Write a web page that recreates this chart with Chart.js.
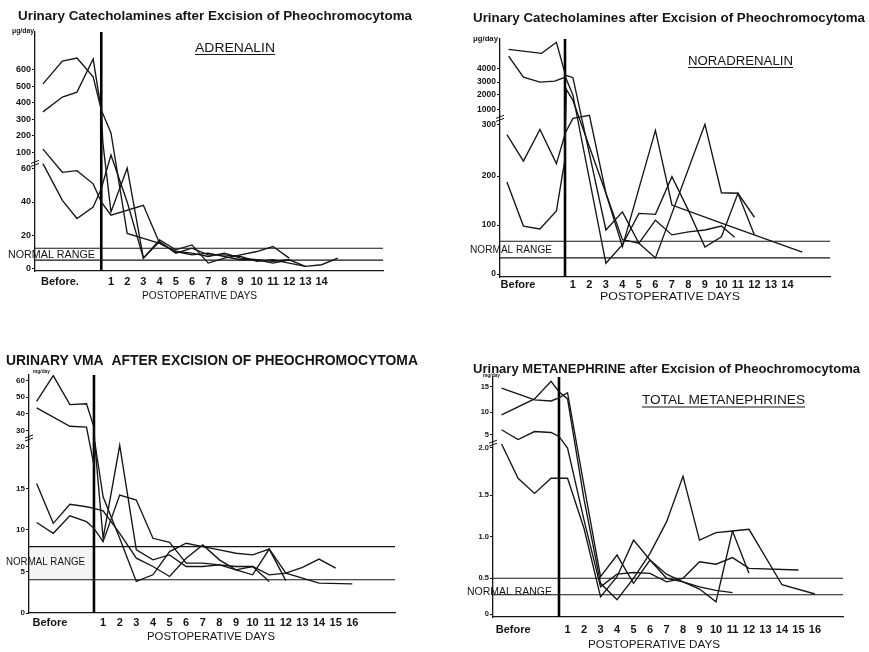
<!DOCTYPE html>
<html>
<head>
<meta charset="utf-8">
<script src="https://cdn.jsdelivr.net/npm/chart.js@4.4.1/dist/chart.umd.min.js"></script>
<style>
body { margin: 0; background: #fff; width: 869px; height: 652px; overflow: hidden; position: relative; }
canvas { position: absolute; }
</style>
</head>
<body>
<canvas id="adr" width="435" height="310" style="left:0;top:0"></canvas>
<canvas id="nor" width="434" height="310" style="left:435px;top:0"></canvas>
<canvas id="vma" width="435" height="332" style="left:0;top:320px"></canvas>
<canvas id="met" width="434" height="332" style="left:435px;top:320px"></canvas>
<script>
// ---------- ADRENALIN (ug/day) ----------
var adrTickVals = [0, 20, 40, 60, 100, 200, 300, 400, 500, 600];
var adrTickPos  = [0, 1, 2, 3, 3.5, 4, 4.5, 5, 5.5, 6];   // broken axis
var adrTickText = ['0', '20', '40', '60', '100', '200', '300', '400', '500', '600'];
var adrNormal = [4.8, 12];
var adrDaysA = [-3.2, -2, -1.1, -0.1, 0.4, 1, 2, 3, 4, 5, 6, 7, 8, 9, 10, 11, 12];
var adrA     = [516, 654, 672, 558, 358, 218, 21, 18, 15, 10, 9, 7, 9, 6, 5, 4, 5];
var adrDaysB = [-3.2, -2, -1.1, -0.1, 0.4, 0.5, 1, 2, 3, 4, 5, 6, 7, 8, 9, 10, 11, 12];
var adrB     = [346, 436, 466, 666, 358, 158, 34, 62, 6, 17, 11, 14, 3, 6, 8, 10, 13, 6];
var adrDaysC = [-3.2, -2, -1.1, -0.1, 0.4, 1, 3, 4, 5, 6, 7, 8, 9, 10, 11, 12, 13, 14, 15];
var adrC     = [120, 58, 59, 51, 40, 32, 38, 15, 10, 8, 9, 7, 5, 5, 3, 5, 1, 2, 6];
var adrDaysD = [-3.2, -2, -1.1, -0.1, 0.4, 1, 2, 3, 4, 5, 6, 7, 8, 9, 10, 11, 12, 13];
var adrD     = [73, 41, 30, 37, 48, 94, 40, 6, 16, 9, 12, 8, 8, 7, 4, 5, 3, 1];

// ---------- NORADRENALIN (ug/day) ----------
var norTickVals = [0, 100, 200, 300, 1000, 2000, 3000, 4000];
var norTickPos  = [0, 1, 2, 3.06, 3.36, 3.67, 3.92, 4.2];
var norTickText = ['0', '100', '200', '300', '1000', '2000', '3000', '4000'];
var norNormal = [33, 67];
var norDaysA = [-2.9, -0.9, 0, 0.55, 1, 3, 4, 5, 6, 9, 10, 11, 12];
var norA     = [5390, 5100, 5900, 3500, 3320, 90, 127, 63, 33, 300, 166, 165, 116];
var norDaysB = [-2.9, -2, -1, -0.1, 0.55, 1, 3, 4, 5, 6, 7, 8, 9, 10, 11, 12];
var norB     = [4900, 3360, 3000, 3070, 3360, 1950, 22, 60, 124, 122, 199, 130, 55, 76, 165, 80];
var norDaysC = [-3, -2, -1, 0, 0.55, 1, 2, 3, 4, 6, 7, 10, 14.9];
var norC     = [280, 229, 290, 224, 284, 580, 720, 165, 56, 288, 141, 104, 45];
var norDaysD = [-3, -2, -1, 0, 0.5, 0.6, 1, 4, 5, 6, 7, 8, 9, 10, 10.8];
var norD     = [188, 98, 92, 129, 229, 2400, 1600, 70, 63, 110, 80, 86, 90, 98, 75];

// ---------- VMA (mg/day) ----------
var vmaTickVals = [0, 5, 10, 15, 20, 30, 40, 50, 60];
var vmaTickPos  = [0, 5, 10, 15, 20, 22, 24, 26, 28];
var vmaTickText = ['0', '5', '10', '15', '20', '30', '40', '50', '60'];
var vmaNormal = [4, 8];
var vmaDaysA = [-3, -2, -1, 0, 0.45, 0.5, 1, 2, 3, 4, 5, 6, 7, 8, 9, 10, 11];
var vmaA     = [47.5, 63, 45.5, 46, 32, 22, 9, 21, 7.6, 6.4, 7, 5.6, 5.6, 5.8, 5.2, 5.6, 3.8];
var vmaDaysB = [-3, -1, 0, 0.45, 0.5, 1, 2, 3, 4, 5, 6, 7, 8, 9, 10, 11, 12];
var vmaB     = [43.5, 32.5, 32, 17.8, 23, 14, 9, 3.8, 4.6, 7.4, 8.4, 8, 7.6, 7.2, 7, 7.7, 3.9];
var vmaDaysC = [-3, -2, -1, 0, 0.45, 1, 2, 3, 4, 5, 6, 7, 8, 9, 10, 11, 12, 13, 14, 16];
var vmaC     = [15.6, 10.8, 13.1, 12.8, 12.6, 12.3, 9.6, 6.6, 5.6, 4.4, 6.6, 8.2, 6.4, 5.2, 4.6, 7.7, 4.8, 4.2, 3.6, 3.5];
var vmaDaysD = [-3, -2, -1, 0, 0.45, 1, 2, 3, 4, 5, 6, 7, 8, 9, 10, 11, 12, 13, 14, 15];
var vmaD     = [10.9, 9.6, 11.7, 11, 10.2, 8.6, 14.2, 13.6, 9, 8.5, 6, 6, 5.8, 5.6, 5.6, 4.6, 4.8, 5.5, 6.5, 5.4];

// ---------- TOTAL METANEPHRINES (mg/day) ----------
var metTickVals = [0, 0.5, 1.0, 1.5, 2.0, 5, 10, 15];
var metTickPos  = [0, 0.43, 0.93, 1.43, 2, 2.16, 2.43, 2.74];
var metTickText = ['0', '0.5', '1.0', '1.5', '2.0', '5', '10', '15'];
var metNormal = [0.27, 0.5];
var metDaysA = [-3, -1, 0, 0.48, 1, 2, 3, 4, 5, 6, 7, 8, 9, 10, 11];
var metA     = [14.7, 12.4, 12.2, 12.8, 13.8, 1.6, 0.52, 0.78, 0.43, 0.72, 0.55, 0.45, 0.38, 0.33, 0.3];
var metDaysB = [-3, -1, 0, 0.48, 1, 2, 3, 4, 5, 6, 7, 8, 9, 10, 11, 12];
var metB     = [9.4, 12.6, 16, 14, 12.6, 1.45, 0.43, 0.2, 0.5, 0.8, 1.18, 1.7, 0.96, 1.05, 1.07, 0.56];
var metDaysC = [-3, -2, -1, 0, 0.48, 1, 2, 3, 4, 5, 6, 7, 8, 9, 10, 11, 12, 15];
var metC     = [6.1, 3.9, 5.7, 5.5, 4.6, 2.0, 1.2, 0.38, 0.55, 0.57, 0.56, 0.45, 0.5, 0.7, 0.67, 0.75, 0.62, 0.6];
var metDaysD = [-3, -2, -1, 0, 0.48, 1, 2, 3, 4, 5, 6, 7, 8, 9, 10, 11, 12, 14, 16];
var metD     = [2.9, 1.68, 1.52, 1.68, 1.68, 1.68, 1.1, 0.24, 0.52, 0.96, 0.72, 0.5, 0.45, 0.35, 0.17, 1.07, 1.09, 0.41, 0.28];

var days14 = [1, 2, 3, 4, 5, 6, 7, 8, 9, 10, 11, 12, 13, 14];
var days16 = [1, 2, 3, 4, 5, 6, 7, 8, 9, 10, 11, 12, 13, 14, 15, 16];

var FONT = '"Liberation Sans", Arial, sans-serif';
var INK = '#151515';

// value -> position on a hand-broken axis (piecewise linear through the ticks)
function brokenScale(vals, pos) {
  return function (v) {
    var n = vals.length;
    for (var i = 1; i < n; i++) {
      if (v <= vals[i] || i == n - 1) {
        var t = (v - vals[i - 1]) / (vals[i] - vals[i - 1]);
        return pos[i - 1] + t * (pos[i] - pos[i - 1]);
      }
    }
  };
}

function fitText(ctx, t) {
  ctx.save();
  ctx.font = (t.weight || 'normal') + ' ' + t.size + 'px ' + FONT;
  var w = ctx.measureText(t.text).width;
  ctx.translate(t.x, t.y);
  ctx.scale(t.w / w, 1);
  ctx.fillStyle = INK;
  ctx.textBaseline = 'alphabetic';
  ctx.fillText(t.text, 0, 0);
  ctx.restore();
  if (t.underline) {
    ctx.save();
    ctx.strokeStyle = INK;
    ctx.lineWidth = 1.1;
    ctx.beginPath();
    ctx.moveTo(t.x, t.y + t.underline);
    ctx.lineTo(t.x + t.w, t.y + t.underline);
    ctx.stroke();
    ctx.restore();
  }
}

function makePanel(id, cfg) {
  var f = brokenScale(cfg.tickVals, cfg.tickPos);
  var datasets = cfg.series.map(function (s) {
    return {
      data: s[0].map(function (d, i) { return { x: d, y: f(s[1][i]) }; }),
      borderColor: INK, borderWidth: 1.35, pointRadius: 0, tension: 0, fill: false
    };
  });
  cfg.normal.forEach(function (v) {
    datasets.push({
      data: [{ x: cfg.xMin, y: f(v) }, { x: cfg.xMax, y: f(v) }],
      borderColor: INK, borderWidth: 1.1, pointRadius: 0, fill: false
    });
  });
  // day of excision
  datasets.push({
    data: [{ x: cfg.excision, y: cfg.yMin }, { x: cfg.excision, y: cfg.yMax }],
    borderColor: '#000', borderWidth: 2.6, pointRadius: 0, fill: false
  });

  var notes = {
    id: 'notes',
    beforeDatasetsDraw: function (chart) {
      if (!cfg.shade) return;
      var ctx = chart.ctx, xs = chart.scales.x, ys = chart.scales.y;
      var x0 = chart.chartArea.left, x1 = xs.getPixelForValue(cfg.excision);
      var y0 = ys.getPixelForValue(f(cfg.normal[1])), y1 = ys.getPixelForValue(f(cfg.normal[0]));
      ctx.save();
      ctx.fillStyle = 'rgba(0,0,0,0.045)';
      ctx.fillRect(x0, y0, x1 - x0, y1 - y0);
      ctx.restore();
    },
    afterDraw: function (chart) {
      var ctx = chart.ctx, ys = chart.scales.y;
      cfg.texts.forEach(function (t) { fitText(ctx, t); });
      // axis break mark
      var bx = chart.chartArea.left, by = ys.getPixelForValue(cfg.breakAt);
      ctx.save();
      ctx.strokeStyle = INK;
      ctx.lineWidth = 1;
      ctx.beginPath();
      ctx.moveTo(bx - 4, by + 1); ctx.lineTo(bx + 4, by - 2);
      ctx.moveTo(bx - 4, by + 4); ctx.lineTo(bx + 4, by + 1);
      ctx.stroke();
      ctx.restore();
    }
  };

  new Chart(document.getElementById(id), {
    type: 'line',
    data: { datasets: datasets },
    options: {
      responsive: false,
      animation: false,
      layout: { padding: cfg.pad },
      plugins: { legend: { display: false }, tooltip: { enabled: false } },
      scales: {
        x: {
          type: 'linear', min: cfg.xMin, max: cfg.xMax,
          grid: { display: false, drawTicks: false, tickLength: 0 },
          border: { color: INK, width: 1.3 },
          afterBuildTicks: function (s) {
            s.ticks = [cfg.beforeX].concat(cfg.days).map(function (v) { return { value: v }; });
          },
          afterFit: function (s) { s.height = cfg.xh; },
          ticks: {
            autoSkip: false, maxRotation: 0, padding: cfg.xPad, color: INK,
            font: { family: FONT, size: cfg.xFont, weight: 'bold' },
            callback: function (v) { return v === cfg.beforeX ? cfg.beforeText : String(v); }
          }
        },
        y: {
          type: 'linear', min: cfg.yMin, max: cfg.yMax,
          grid: { display: true, drawOnChartArea: false, tickLength: 3, color: INK, lineWidth: 1 },
          border: { color: INK, width: 1.3 },
          afterBuildTicks: function (s) {
            s.ticks = cfg.tickPos.map(function (v) { return { value: v }; });
          },
          afterFit: function (s) { s.width = cfg.yw; },
          ticks: {
            padding: 1, color: INK,
            font: { family: FONT, size: cfg.yFont, weight: 'bold' },
            callback: function (v, i) { return cfg.tickText[i]; }
          }
        }
      }
    },
    plugins: [notes]
  });
}

makePanel('adr', {
  tickVals: adrTickVals, tickPos: adrTickPos, tickText: adrTickText, normal: adrNormal,
  series: [[adrDaysA, adrA], [adrDaysB, adrB], [adrDaysC, adrC], [adrDaysD, adrD]],
  days: days14, beforeX: -2.15, beforeText: 'Before.', excision: 0.4,
  xMin: -3.69, xMax: 17.79, yMin: -0.09, yMax: 7.15, breakAt: 3.2,
  pad: { left: 5, right: 52, top: 32, bottom: 4 }, yw: 30, xh: 35, xPad: 4, xFont: 11, yFont: 9,
  texts: [
    { text: 'Urinary Catecholamines after Excision of Pheochromocytoma', x: 18, y: 20, w: 394, size: 12.5, weight: 'bold' },
    { text: 'μg/day', x: 12, y: 33, w: 22, size: 7, weight: 'bold' },
    { text: 'ADRENALIN', x: 195, y: 52, w: 80, size: 12.5, underline: 2.5 },
    { text: 'NORMAL RANGE', x: 8, y: 258, w: 87, size: 10.5 },
    { text: 'POSTOPERATIVE DAYS', x: 142, y: 299, w: 115, size: 10 }
  ]
});

makePanel('nor', {
  tickVals: norTickVals, tickPos: norTickPos, tickText: norTickText, normal: norNormal,
  series: [[norDaysA, norA], [norDaysB, norB], [norDaysC, norC], [norDaysD, norD]],
  days: days14, beforeX: -2.33, beforeText: 'Before', excision: 0.52,
  xMin: -3.42, xMax: 16.58, yMin: -0.06, yMax: 4.8, breakAt: 3.2,
  pad: { left: 5, right: 39, top: 39, bottom: 3 }, yw: 60, xh: 30, xPad: 1, xFont: 11, yFont: 8.5,
  texts: [
    { text: 'Urinary Catecholamines after Excision of Pheochromocytoma', x: 38, y: 22, w: 392, size: 12.5, weight: 'bold' },
    { text: 'μg/day', x: 38, y: 41, w: 25, size: 7, weight: 'bold' },
    { text: 'NORADRENALIN', x: 253, y: 65, w: 105, size: 12.5, underline: 2.5 },
    { text: 'NORMAL RANGE', x: 35, y: 253, w: 82, size: 10 },
    { text: 'POSTOPERATIVE DAYS', x: 165, y: 300, w: 140, size: 11 }
  ]
});

makePanel('vma', {
  tickVals: vmaTickVals, tickPos: vmaTickPos, tickText: vmaTickText, normal: vmaNormal, shade: true,
  series: [[vmaDaysA, vmaA], [vmaDaysB, vmaB], [vmaDaysC, vmaC], [vmaDaysD, vmaD]],
  days: days16, beforeX: -2.2, beforeText: 'Before', excision: 0.45,
  xMin: -3.46, xMax: 18.57, yMin: 0, yMax: 28.67, breakAt: 21.2,
  pad: { left: 4, right: 40, top: 55, bottom: 4 }, yw: 25, xh: 35, xPad: 3, xFont: 11, yFont: 8,
  texts: [
    { text: 'URINARY VMA  AFTER EXCISION OF PHEOCHROMOCYTOMA', x: 6, y: 45, w: 412, size: 15.5, weight: 'bold' },
    { text: 'mg/day', x: 33, y: 53, w: 17, size: 6, weight: 'bold' },
    { text: 'NORMAL RANGE', x: 6, y: 245, w: 79, size: 10 },
    { text: 'POSTOPERATIVE DAYS', x: 147, y: 320, w: 128, size: 10 }
  ]
});

makePanel('met', {
  tickVals: metTickVals, tickPos: metTickPos, tickText: metTickText, normal: metNormal,
  series: [[metDaysA, metA], [metDaysB, metB], [metDaysC, metC], [metDaysD, metD]],
  days: days16, beforeX: -2.3, beforeText: 'Before', excision: 0.48,
  xMin: -3.52, xMax: 17.7, yMin: -0.036, yMax: 2.855, breakAt: 2.07,
  pad: { left: 8, right: 26, top: 57, bottom: 3 }, yw: 50, xh: 32, xPad: 6, xFont: 11, yFont: 7.5,
  texts: [
    { text: 'Urinary METANEPHRINE after Excision of Pheochromocytoma', x: 38, y: 53, w: 387, size: 13, weight: 'bold' },
    { text: 'mg/day', x: 48, y: 57, w: 17, size: 6, weight: 'bold' },
    { text: 'TOTAL METANEPHRINES', x: 207, y: 84, w: 163, size: 12.5, underline: 3 },
    { text: 'NORMAL RANGE', x: 32, y: 275, w: 85, size: 10 },
    { text: 'POSTOPERATIVE DAYS', x: 153, y: 328, w: 132, size: 10 }
  ]
});
</script>
</body>
</html>
